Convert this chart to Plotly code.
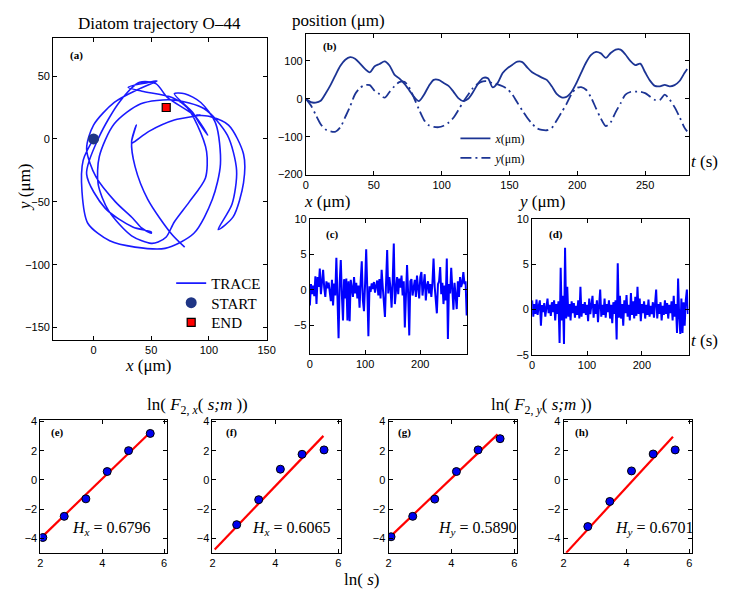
import plotly.graph_objects as go

W, H = 729, 600

# ---------------- data ----------------
t_b = [0, 3.6, 7.2, 10.9, 14.5, 18.1, 21.7, 25.4, 29, 32.6, 36.2, 39.9, 43.5, 47.1, 50.7, 54.3,
       58, 61.6, 65.2, 68.8, 72.5, 76.1, 79.7, 83.3, 86.9, 90.6, 94.2, 97.8, 101.5, 105.1, 108.7,
       112.3, 116, 119.6, 123.2, 126.8, 130.5, 134.1, 137.7, 141.3, 145, 148.6, 152.2, 155.8,
       159.5, 163.1, 166.7, 170.3, 173.9, 177.5, 181.2, 184.8, 188.4, 192, 195.7, 199.3, 202.9,
       206.5, 210.2, 213.8, 217.4, 221, 224.6, 228.3, 231.9, 235.5, 239.1, 242.7, 246.4, 250,
       253.6, 257.2, 260.9, 264.5, 268.1, 271.7, 275.4, 279, 281]
x_pos = [0, -9, -10, -5, 14, 36, 62, 87, 103, 110, 106, 93, 79, 70, 86, 92, 99, 88, 64, 54, 40,
         23, 5, -6, 10, 34, 50, 50, 42, 34, 19, 2, -6, 0, 18, 40, 55, 54, 30, 42, 68, 81, 90, 98,
         97, 83, 70, 63, 56, 50, 33, 13, 4, 5, 18, 41, 69, 96, 116, 124, 120, 108, 121, 130,
         130, 117, 100, 89, 93, 70, 48, 34, 33, 37, 33, 36, 47, 68, 79]
y_pos = [0, -17, -42, -67, -81, -86, -87, -75, -48, -20, 12, 29, 36, 36, 21, 12, 3, 18, 33, 44,
         45, 30, 2, -28, -55, -70, -74, -75, -71, -63, -50, -30, -8, 11, 29, 40, 46, 46, 41, 38,
         33, 25, 11, -10, -31, -50, -66, -78, -82, -83, -77, -57, -36, -14, 12, 28, 31, 24, 3,
         -25, -52, -72, -62, -35, -12, 11, 18, 19, 19, 15, 6, -3, -3, 11, -2, -22, -48, -76, -86]
start_xy = (0, 0)
end_xy = (63, 25)

t_cd = list(range(0, 286, 2))
dx = [-2.2, 0.8, -0.6, 0.6, -0.9, 1.9, -2.0, 1.8, 0.4, 3.0, -0.6, 1.2, 2.8, 0.3, -1.0, 1.2, 0.2,
      1.0, -0.5, -1.6, 1.4, -2.2, 0.9, -0.8, 4.5, -0.4, -6.8, 1.0, 4.2, -0.8, -4.3, 1.5, -1.2,
      1.6, -4.3, 1.2, -4.4, 1.4, 0.2, -1.0, 1.8, -0.5, 1.0, -1.2, 0.6, -2.5, 1.2, 4.0, -1.5,
      -3.0, 0.8, 5.7, 0.2, -6.5, 0.5, -0.3, 0.9, 0.1, 1.1, -0.4, 0.6, 1.3, -0.8, 1.5, -1.2, 2.8,
      0.4, -1.5, -3.8, 1.0, 5.6, -0.5, 1.8, 0.2, -2.5, 1.2, 6.5, -2.0, 0.5, 1.8, -0.6, 1.6, 0.3,
      2.0, -0.8, 1.2, -5.3, 0.8, 3.5, -0.5, -6.4, 1.2, 1.5, -0.8, 0.5, 1.4, -1.0, 2.0, 0.3, -1.2,
      1.8, 2.5, -0.8, 1.0, 2.2, -1.5, 0.6, 1.2, -0.5, 0.8, -1.0, 1.0, 4.4, 0.5, -1.0, -3.3, 0.8,
      1.2, 3.2, -0.6, 1.0, -2.0, 0.6, -1.5, 4.4, -6.9, 0.8, -0.5, 3.1, 0.2, -2.8, 1.0, -0.6,
      -2.7, 1.2, -1.0, 1.8, 0.4, 1.0, 2.5, 0.8, 1.2, -3.6]
dy = [1.0, -0.8, 0.6, -0.5, 1.1, -0.6, 0.4, 1.0, -1.8, 0.5, -0.3, 0.7, -0.8, 0.3, 1.2, -0.4, 0.5,
      -0.7, 0.8, -0.3, 1.0, -1.2, 0.6, -0.5, 0.9, -3.7, 4.6, -1.2, 1.5, -3.8, 6.8, -1.0, 2.5,
      -0.8, 0.6, -1.2, 0.9, -0.4, 0.7, -0.9, 0.4, -0.6, 1.0, -1.0, 2.5, -0.8, 0.6, -0.4, 0.8,
      -0.6, 0.5, -1.3, 1.2, -0.5, 0.4, 1.5, -0.9, 0.6, -0.5, 1.0, -1.4, 0.7, 2.2, -0.8, 0.5,
      -0.6, 1.2, -0.9, 0.6, -0.3, 1.0, -1.0, 0.5, -1.5, 0.8, -0.5, 1.0, -3.3, 5.1, -0.9, 1.5,
      -1.0, 0.6, -1.8, 1.0, -0.4, 1.6, -0.8, 0.5, -1.2, 1.8, -0.6, 0.9, -1.0, 1.4, -0.7, 2.5,
      -0.5, 1.2, -1.3, 0.6, -0.4, 0.9, -1.0, 0.5, -0.6, 1.1, -0.8, 0.4, -0.5, 0.8, -0.9, 1.3,
      2.2, -1.0, 0.6, -0.5, 0.8, -1.2, 0.4, -0.6, 1.0, -0.5, 0.7, -1.0, 0.5, -0.4, 0.9, -1.2,
      1.5, -0.8, 0.6, -2.6, 3.4, -0.8, -2.7, 1.2, -2.6, 0.8, -1.8, 1.0, 2.2, -0.5]

ln_s = [2.08, 2.77, 3.47, 4.16, 4.85, 5.55]
lnF_e = [-3.95, -2.5, -1.3, 0.57, 2.0, 3.18]
lnF_f = [None, -3.07, -1.36, 0.73, 1.75, 2.05]
lnF_g = [-3.9, -2.5, -1.32, 0.57, 2.05, 2.82]
lnF_h = [None, -3.2, -1.48, 0.61, 1.77, 2.05]
fit_slope = [2.05, 2.25, 2.05, 2.34]
fit_icpt = [-8.12, -9.43, -8.1, -9.87]
fit_x0 = [2.08, 2.07, 2.08, 2.08]
fit_x1 = [5.52, 5.53, 5.47, 5.48]
H_text = ["0.6796", "0.6065", "0.5890", "0.6701"]
H_sub = ["x", "x", "y", "y"]
panel_tags = ["(a)", "(b)", "(c)", "(d)", "(e)", "(f)", "(g)", "(h)"]

# ---------------- helpers ----------------
def fx(p):
    return p / W

def fy(p):
    return 1 - p / H

SERIF = "Liberation Serif, Times New Roman, serif"
SANS = "Liberation Sans, Arial, sans-serif"

def axis(dom, rng, tickvals, anchor):
    return dict(domain=dom, range=rng, showline=True, linecolor="black", linewidth=1,
                mirror="allticks", ticks="inside", ticklen=4, tickcolor="black",
                showgrid=False, zeroline=False, tickvals=tickvals,
                tickfont=dict(family=SANS, size=11, color="black"), anchor=anchor)

fig = go.Figure()

# (a) trajectory
fig.add_trace(go.Scatter(x=x_pos, y=y_pos, mode="lines", name="TRACE", legend="legend",
                         line=dict(color="#1a1aff", width=1.6, shape="spline", smoothing=0.8),
                         xaxis="x", yaxis="y"))
fig.add_trace(go.Scatter(x=[start_xy[0]], y=[start_xy[1]], mode="markers", name="START",
                         legend="legend3",
                         marker=dict(color="#1f3585", size=11, symbol="circle"),
                         xaxis="x", yaxis="y"))
fig.add_trace(go.Scatter(x=[end_xy[0]], y=[end_xy[1]], mode="markers", name="END",
                         legend="legend4",
                         marker=dict(color="#ff0000", size=8, symbol="square",
                                     line=dict(color="black", width=1.2)),
                         xaxis="x", yaxis="y"))

# (b) positions vs time
fig.add_trace(go.Scatter(x=t_b, y=x_pos, mode="lines", name="<i>x</i>(μm)", legend="legend2",
                         line=dict(color="#1c3494", width=1.8, shape="spline", smoothing=0.8),
                         xaxis="x2", yaxis="y2"))
fig.add_trace(go.Scatter(x=t_b, y=y_pos, mode="lines", name="<i>y</i>(μm)", legend="legend5",
                         line=dict(color="#1c3494", width=1.8, dash="11px,4px,2px,4px",
                                   shape="spline", smoothing=0.8),
                         xaxis="x2", yaxis="y2"))

# (c), (d) fluctuations
fig.add_trace(go.Scatter(x=t_cd, y=dx, mode="lines", showlegend=False,
                         line=dict(color="#0000ff", width=2), xaxis="x3", yaxis="y3"))
fig.add_trace(go.Scatter(x=t_cd, y=dy, mode="lines", showlegend=False,
                         line=dict(color="#0000ff", width=2), xaxis="x4", yaxis="y4"))

# (e)-(h) DFA fits
series = [lnF_e, lnF_f, lnF_g, lnF_h]
for i, ys in enumerate(series):
    xa, ya = f"x{i+5}", f"y{i+5}"
    x0, x1 = fit_x0[i], fit_x1[i]
    fig.add_trace(go.Scatter(x=[x0, x1],
                             y=[fit_icpt[i] + fit_slope[i] * x0, fit_icpt[i] + fit_slope[i] * x1],
                             mode="lines", showlegend=False,
                             line=dict(color="#ff0000", width=2.2), xaxis=xa, yaxis=ya))
    fig.add_trace(go.Scatter(x=ln_s, y=ys, mode="markers", showlegend=False,
                             marker=dict(color="#0000ee", size=8,
                                         line=dict(color="black", width=1)),
                             xaxis=xa, yaxis=ya))

# ---------------- layout ----------------
boxes = {
    "a": (51, 268, 33, 341),
    "b": (308, 697, 29, 172),
    "c": (312, 472, 217, 355),
    "d": (538, 697, 217, 356),
    "e": (38, 167, 422, 558),
    "f": (213, 344, 422, 558),
    "g": (392, 523, 422, 558),
    "h": (570, 701, 422, 558),
}

def dom(k):
    l, r, t, b = boxes[k]
    return [fx(l), fx(r)], [fy(b), fy(t)]

layout = dict(width=W, height=H, margin=dict(l=0, r=0, t=0, b=0, pad=0),
              paper_bgcolor="white", plot_bgcolor="white", showlegend=True)

xd, yd = dom("a")
layout["xaxis"] = axis(xd, [-35, 150], [0, 50, 100, 150], "y")
layout["yaxis"] = axis(yd, [-160, 80], [-150, -100, -50, 0, 50], "x")
xd, yd = dom("b")
layout["xaxis2"] = axis(xd, [0, 282], [0, 50, 100, 150, 200, 250], "y2")
layout["yaxis2"] = axis(yd, [-200, 170], [-200, -100, 0, 100], "x2")
xd, yd = dom("c")
layout["xaxis3"] = axis(xd, [0, 285], [0, 100, 200], "y3")
layout["yaxis3"] = axis(yd, [-9, 10], [-5, 0, 5, 10], "x3")
xd, yd = dom("d")
layout["xaxis4"] = axis(xd, [0, 285], [0, 100, 200], "y4")
layout["yaxis4"] = axis(yd, [-5, 10], [-5, 0, 5, 10], "x4")
for i, k in enumerate("efgh"):
    xd, yd = dom(k)
    layout[f"xaxis{i+5}"] = axis(xd, [2, 6.1], [2, 4, 6], f"y{i+5}")
    layout[f"yaxis{i+5}"] = axis(yd, [-5, 4.13], [-4, -2, 0, 2, 4], f"x{i+5}")

def leg(x, y, size):
    return dict(x=fx(x), y=fy(y), xanchor="left", yanchor="middle",
                bgcolor="rgba(0,0,0,0)", borderwidth=0,
                font=dict(family=SERIF, size=size, color="black"), itemwidth=30)

layout["legend"] = leg(171, 283, 15)
layout["legend3"] = leg(171, 303, 15)
layout["legend4"] = leg(171, 323, 15)
layout["legend2"] = leg(460, 135, 12)
layout["legend5"] = leg(460, 155, 12)

ann = []

def text(x, y, s, size=17, xanchor="center", angle=0, family=SERIF):
    ann.append(dict(x=fx(x), y=fy(y), xref="paper", yref="paper", text=s, showarrow=False,
                    xanchor=xanchor, yanchor="middle", textangle=angle,
                    font=dict(family=family, size=size, color="black")))

# titles & axis labels
text(159, 18, "Diatom trajectory O–44", 17)
text(292, 15, "position (μm)", 17, xanchor="left")
text(147, 367, "<i>x</i> (μm)", 17)
text(22, 185, "<i>y</i> (μm)", 17, angle=-90)
text(713, 159, "<i>t</i> (s)", 17)
text(304, 200, "<i>x</i> (μm)", 17, xanchor="left")
text(522, 200, "<i>y</i> (μm)", 17, xanchor="left")
text(713, 341, "<i>t</i> (s)", 17)
text(198, 408, "ln( <i>F</i><sub>2, <i>x</i></sub>( <i>s;m</i> ))", 17)
text(548, 408, "ln( <i>F</i><sub>2, <i>y</i></sub>( <i>s;m</i> ))", 17)
text(365, 585, "ln( <i>s</i>)", 17)

# panel tags
tag_pos = [(66, 51), (323, 41), (326, 233), (553, 233), (47, 435), (225, 435), (400, 435), (580, 435)]
for tg, (px, py) in zip(panel_tags, tag_pos):
    text(px, py, "<b>" + tg + "</b>", 11, xanchor="left")

# H values
H_pos = [(68, 533), (251, 533), (440, 533), (620, 533)]
for (px, py), hv, sb in zip(H_pos, H_text, H_sub):
    text(px, py, f"<i>H</i><sub><i>{sb}</i></sub> = {hv}", 16, xanchor="left")

layout["annotations"] = ann
fig.update_layout(**layout)
fig.write_html("out.html", config={"displayModeBar": False},
               post_script="document.body.style.margin='0px';document.body.style.overflow='hidden';")
